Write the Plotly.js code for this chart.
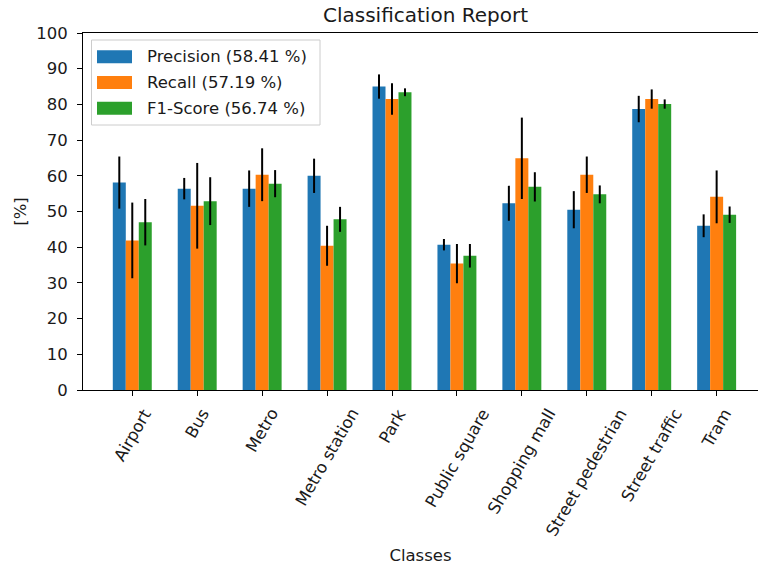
<!DOCTYPE html>
<html>
<head>
<meta charset="utf-8">
<script src="https://cdn.plot.ly/plotly-3.0.1.min.js"></script>
<style>
  html, body { margin: 0; padding: 0; background: #fff; }
  #chart { width: 758px; height: 571px; }
</style>
</head>
<body>
<div id="chart"></div>
<script>
// Per-class scores (mean and spread over folds), in percent
const classes = ["Airport", "Bus", "Metro", "Metro station", "Park",
                 "Public square", "Shopping mall", "Street pedestrian",
                 "Street traffic", "Tram"];

const precision    = [58.1, 56.4, 56.4, 60.0, 85.0, 40.7, 52.3, 50.5, 78.7, 46.0];
const precisionErr = [7.3, 3.0, 5.1, 4.8, 3.4, 1.6, 4.9, 5.2, 3.7, 3.2];

const recall    = [41.9, 51.6, 60.3, 40.4, 81.5, 35.4, 64.9, 60.3, 81.5, 54.1];
const recallErr = [10.6, 12.0, 7.4, 5.6, 4.4, 5.5, 11.4, 5.1, 2.7, 7.4];

const f1    = [47.0, 52.9, 57.8, 47.8, 83.4, 37.6, 56.9, 54.8, 80.1, 49.1];
const f1Err = [6.5, 6.7, 3.8, 3.5, 1.1, 3.3, 4.1, 2.5, 1.3, 2.3];

const seriesNames = ["Precision (58.41 %)", "Recall (57.19 %)", "F1-Score (56.74 %)"];
const seriesColors = ["#1f77b4", "#ff7f0e", "#2ca02c"];

const yTicks = [0, 10, 20, 30, 40, 50, 60, 70, 80, 90, 100];

// Figure geometry
const W = 758, H = 571;
const M = { l: 83, r: 0, t: 33, b: 181 };
const plotW = W - M.l - M.r;
const plotH = H - M.t - M.b;
const pxX = px => (px - M.l) / plotW;          // pixel -> paper x
const pxY = py => (H - M.b - py) / plotH;      // pixel -> paper y

const FONT = "DejaVu Sans, sans-serif";
const FS = 16.5;
const TXT = "#1a1a1a";
const idx = classes.map((_, i) => i);

function barTrace(name, values, errs, color) {
  return {
    type: "bar",
    name: name,
    x: idx,
    y: values,
    marker: { color: color, line: { width: 0 } },
    error_y: { type: "data", array: errs, visible: true,
               color: "#000", thickness: 2, width: 0 },
    showlegend: false,
    hoverinfo: "y+name"
  };
}

const data = [
  barTrace(seriesNames[0], precision, precisionErr, seriesColors[0]),
  barTrace(seriesNames[1], recall, recallErr, seriesColors[1]),
  barTrace(seriesNames[2], f1, f1Err, seriesColors[2])
];

// Rotated category labels, centred under each tick
const annotations = classes.map((c, i) => ({
  x: i, xref: "x", y: 0, yref: "paper",
  text: c, showarrow: false, textangle: -60,
  xanchor: "center", yanchor: "top", yshift: -13,
  font: { family: FONT, size: FS, color: TXT }
}));

// Legend box with wide colour patches
const shapes = [{
  type: "rect", xref: "paper", yref: "paper",
  x0: pxX(91.5), x1: pxX(320), y0: pxY(125), y1: pxY(40),
  line: { color: "#cccccc", width: 1 }, fillcolor: "rgba(255,255,255,0.8)",
  layer: "above"
}];
const rowCenters = [56.7, 82.5, 108.3];
seriesNames.forEach((n, k) => {
  shapes.push({
    type: "rect", xref: "paper", yref: "paper",
    x0: pxX(97), x1: pxX(132),
    y0: pxY(rowCenters[k] + 6.5), y1: pxY(rowCenters[k] - 6.5),
    line: { width: 0 }, fillcolor: seriesColors[k], layer: "above"
  });
  annotations.push({
    x: pxX(145), xref: "paper", y: pxY(rowCenters[k]), yref: "paper",
    text: n, showarrow: false, xanchor: "left", yanchor: "middle",
    font: { family: FONT, size: FS, color: TXT }
  });
});

const layout = {
  width: W, height: H,
  margin: M,
  paper_bgcolor: "#fff", plot_bgcolor: "#fff",
  font: { family: FONT, size: FS, color: TXT },
  title: {
    text: "Classification Report",
    font: { family: FONT, size: 20, color: TXT },
    x: pxX(425.5), xref: "paper", xanchor: "center",
    y: 1 - 15 / H, yref: "container", yanchor: "middle"
  },
  barmode: "group",
  bargap: 0.4,
  bargroupgap: 0,
  showlegend: false,
  xaxis: {
    range: [-0.759, 9.637],
    tickmode: "array", tickvals: idx, showticklabels: false,
    ticks: "outside", ticklen: 5, tickwidth: 1, tickcolor: "#000",
    showline: true, linecolor: "#000", linewidth: 1, mirror: true,
    showgrid: false, zeroline: false,
    automargin: false,
    title: { text: "Classes", font: { family: FONT, size: FS, color: TXT }, standoff: 154 }
  },
  yaxis: {
    range: [0, 100],
    tickmode: "array", tickvals: yTicks, ticktext: yTicks.map(String),
    ticks: "outside", ticklen: 5, tickwidth: 1, tickcolor: "#000",
    ticklabelstandoff: 6,
    showline: true, linecolor: "#000", linewidth: 1, mirror: false,
    showgrid: false, zeroline: false,
    automargin: false,
    title: { text: "[%]", font: { family: FONT, size: FS, color: TXT }, standoff: 5 }
  },
  annotations: annotations,
  shapes: shapes
};

Plotly.newPlot("chart", data, layout, { displayModeBar: false, staticPlot: true });
</script>
</body>
</html>
